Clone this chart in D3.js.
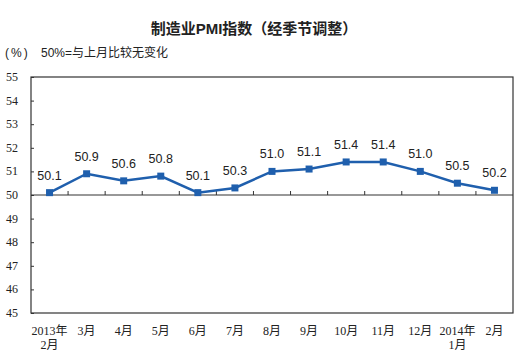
<!DOCTYPE html>
<html><head><meta charset="utf-8">
<script src="https://cdn.jsdelivr.net/npm/d3@7"></script>
<style>body{margin:0;background:#fff}svg{display:block}</style>
</head><body>
<script>
const categories = ["2013年\n2月","3月","4月","5月","6月","7月","8月","9月","10月","11月","12月","2014年\n1月","2月"];
const pmiValues = [50.1,50.9,50.6,50.8,50.1,50.3,51.0,51.1,51.4,51.4,51.0,50.5,50.2];
const yTicks = [45,46,47,48,49,50,51,52,53,54,55];
const title = "制造业PMI指数（经季节调整）";
const unitLabel = "(%)";
const note = "50%=与上月比较无变化";

const W = 526, H = 357;
const m = {left:31, right:13, top:77, bottom:44};
const svg = d3.select("body").append("svg").attr("width",W).attr("height",H);
const serif = "'Liberation Serif','Noto Sans CJK SC',serif";
const sans = "'Liberation Sans','Noto Sans CJK SC',sans-serif";

const x = d3.scaleBand().domain(d3.range(categories.length)).range([m.left, W-m.right]);
const y = d3.scaleLinear().domain([45,55]).range([H-m.bottom, m.top]);

svg.append("text").attr("x",254).attr("y",34).attr("text-anchor","middle")
  .attr("font-family",sans).attr("font-size",15).attr("font-weight","bold").attr("fill","#222").text(title);
svg.append("text").attr("x",5).attr("y",57).attr("font-family",sans).attr("font-size",12)
  .attr("letter-spacing",2).attr("fill","#222").text(unitLabel);
svg.append("text").attr("x",41).attr("y",57).attr("font-family",sans).attr("font-size",12).attr("fill","#222").text(note);

// frame
svg.append("rect").attr("x",m.left).attr("y",m.top).attr("width",W-m.left-m.right).attr("height",H-m.top-m.bottom)
  .attr("fill","none").attr("stroke","#333").attr("stroke-width",1.2);

// y axis
const yAxis = svg.append("g").attr("transform",`translate(${m.left},0)`)
  .call(d3.axisRight(y).tickValues(yTicks).tickSize(3).tickFormat(""));
yAxis.select(".domain").remove();
yAxis.selectAll("line").attr("stroke","#333");
svg.append("g").selectAll("text").data(yTicks).join("text")
  .attr("x",18).attr("y",d=>y(d)+4).attr("text-anchor","end")
  .attr("font-family",serif).attr("font-size",12).attr("fill","#222").text(d=>d);

// x axis at 50
const bounds = d3.range(1,categories.length).map(i=>x(i));
svg.append("line").attr("x1",m.left).attr("x2",W-m.right).attr("y1",y(50)).attr("y2",y(50))
  .attr("stroke","#333").attr("stroke-width",1.2);
svg.append("g").selectAll("line").data(bounds).join("line")
  .attr("x1",d=>d).attr("x2",d=>d).attr("y1",y(50)).attr("y2",y(50)-4).attr("stroke","#333");

// x labels
const xl = svg.append("g").selectAll("text").data(categories).join("text")
  .attr("text-anchor","middle").attr("font-family",serif).attr("font-size",12).attr("fill","#222");
xl.each(function(d,i){
  const parts = d.split("\n");
  const t = d3.select(this);
  parts.forEach((p,j)=>{
    t.append("tspan").attr("x",x(i)+x.bandwidth()/2).attr("y",335+j*14).text(p);
  });
});

const cx = i => x(i)+x.bandwidth()/2;
const line = d3.line().x((d,i)=>cx(i)).y(d=>y(d));
const color = "#1f5fad";
svg.append("path").datum(pmiValues).attr("d",line).attr("fill","none").attr("stroke",color).attr("stroke-width",2.5);
svg.append("g").selectAll("rect").data(pmiValues).join("rect")
  .attr("x",(d,i)=>cx(i)-3.5).attr("y",d=>y(d)-3.5).attr("width",7).attr("height",7).attr("fill",color);
svg.append("g").selectAll("text").data(pmiValues).join("text")
  .attr("x",(d,i)=>cx(i)).attr("y",d=>y(d)-13).attr("text-anchor","middle")
  .attr("font-family",sans).attr("font-size",12.5).attr("fill","#222").text(d=>d.toFixed(1));
</script>
</body></html>
